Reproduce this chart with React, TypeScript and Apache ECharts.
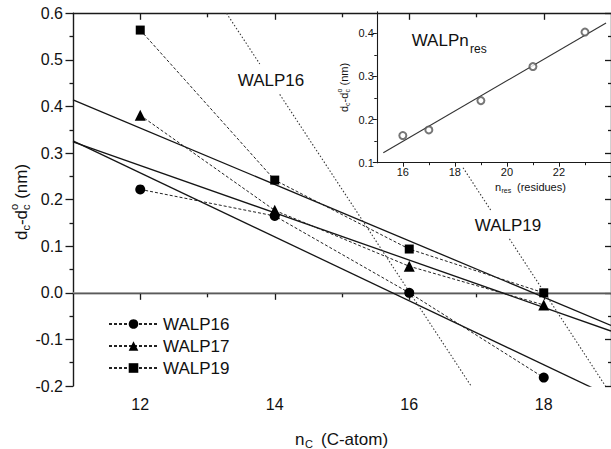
import React, { useEffect, useRef } from 'react';
import * as echarts from 'echarts';

// ---- main panel data ----
const nC = [12, 14, 16, 18];
const walp16 = [0.222, 0.165, 0.0, -0.182];
const walp17 = [0.381, 0.177, 0.057, -0.026];
const walp19 = [0.564, 0.242, 0.094, 0.0];

// fitted straight lines (end points, x / y)
const fit16 = [[11, 0.326], [19, -0.223]];
const fit17 = [[11, 0.324], [19, -0.082]];
const fit19 = [[11, 0.414], [19, -0.07]];

// dotted guide lines (interrupted by their labels)
const dot16a = [[13.283, 0.6], [13.777, 0.4913]];
const dot16b = [[14.074, 0.426], [16.92, -0.2]];
const dot19a = [[16.8, 0.2685], [17.22, 0.1756]];
const dot19b = [[17.49, 0.1158], [18.917, -0.2]];

const zeroLine = [[11, 0], [19, 0]];

// ---- inset data ----
const nRes = [16, 17, 19, 21, 23];
const dRes = [0.163, 0.176, 0.244, 0.323, 0.403];
const fitRes = [[15.25, 0.123], [23.81, 0.424]];

// ---- ticks ----
const xMajor = [12, 14, 16, 18];
const xMinor = [13, 15, 17];
const insetXMajor = [16, 18, 20, 22];
const insetXMinor = [17, 19, 21, 23];
const insetYMajor = [0.1, 0.2, 0.3, 0.4];
const insetYMinor = [0.15, 0.25, 0.35];

const FF = 'Liberation Sans, Arial, Helvetica, sans-serif';
const INK = '#111';
const AX = { color: '#1a1a1a', width: 1.4 };

const zip = (xs: number[], ys: number[]) => xs.map((x, i) => [x, ys[i]]);

function txt(text: string, x: number, y: number, size: number, align = 'left') {
  return {
    type: 'text',
    x,
    y,
    silent: true,
    style: {
      text,
      fontSize: size,
      fontFamily: FF,
      fill: INK,
      align,
      textAlign: align,
      verticalAlign: 'middle',
      textVerticalAlign: 'middle',
    },
  };
}

export default function App() {
  const ref = useRef<HTMLDivElement>(null);
  useEffect(() => {
    if (!ref.current) return;
    const chart = echarts.init(ref.current, undefined, { renderer: 'svg' });

    const tickLine = { color: '#1a1a1a', width: 1.3 };

    const option: any = {
      animation: false,
      backgroundColor: '#fff',
      grid: [
        { left: 73, top: 13.3, right: 0, height: 372.7, containLabel: false },
        { left: 376.8, top: 11.8, right: 0, height: 150.9, containLabel: false },
      ],
      legend: {
        data: ['WALP16', 'WALP17', 'WALP19'],
        orient: 'vertical',
        left: 103,
        top: 310,
        itemWidth: 49,
        itemHeight: 12,
        itemGap: 4,
        itemTextGap: 4,
        selectedMode: false,
        textStyle: { fontSize: 17, fontFamily: FF, color: INK, lineHeight: 18 },
      },
      xAxis: [
        {
          gridIndex: 0, type: 'value', min: 11, max: 19, interval: 1, position: 'bottom',
          axisLine: { show: true, lineStyle: AX },
          axisTick: { show: true, customValues: xMajor, length: 7, lineStyle: tickLine },
          axisLabel: {
            customValues: xMajor, fontSize: 16, margin: 10, color: INK, fontFamily: FF,
            formatter: (v: number) => (v % 2 === 0 ? String(v) : ''),
          },
          splitLine: { show: false },
        },
        {
          gridIndex: 0, type: 'value', min: 11, max: 19, interval: 1, position: 'bottom',
          axisLine: { show: false },
          axisTick: { show: true, customValues: xMinor, length: 4.5, lineStyle: tickLine },
          axisLabel: { show: false },
          splitLine: { show: false },
        },
        {
          gridIndex: 0, type: 'value', min: 11, max: 19, interval: 1, position: 'top',
          axisLine: { show: true, lineStyle: AX },
          axisTick: { show: true, inside: true, customValues: xMajor, length: 6.5, lineStyle: tickLine },
          axisLabel: { show: false },
          splitLine: { show: false },
        },
        {
          gridIndex: 0, type: 'value', min: 11, max: 19, interval: 1, position: 'top',
          axisLine: { show: false },
          axisTick: { show: true, inside: true, customValues: xMinor, length: 4, lineStyle: tickLine },
          axisLabel: { show: false },
          splitLine: { show: false },
        },
        {
          gridIndex: 1, type: 'value', min: 15, max: 24, interval: 1, position: 'bottom',
          axisLine: { show: true, lineStyle: { color: '#1a1a1a', width: 1.1 } },
          axisTick: { show: true, customValues: insetXMajor, length: 4, lineStyle: { color: '#1a1a1a', width: 1 } },
          axisLabel: {
            customValues: insetXMajor, fontSize: 11, margin: 4, color: INK, fontFamily: FF,
            formatter: (v: number) => (v % 2 === 0 ? String(v) : ''),
          },
          splitLine: { show: false },
        },
        {
          gridIndex: 1, type: 'value', min: 15, max: 24, interval: 1, position: 'bottom',
          axisLine: { show: false },
          axisTick: { show: true, customValues: insetXMinor, length: 2.5, lineStyle: { color: '#1a1a1a', width: 1 } },
          axisLabel: { show: false },
          splitLine: { show: false },
        },
      ],
      yAxis: [
        {
          gridIndex: 0, type: 'value', min: -0.2, max: 0.6, interval: 0.1, position: 'left',
          axisLine: { show: true, lineStyle: AX },
          axisTick: { show: true, length: 7.5, lineStyle: tickLine },
          minorTick: { show: true, splitNumber: 2, length: 3.5, lineStyle: tickLine },
          axisLabel: {
            fontSize: 16, margin: 10, color: INK, fontFamily: FF,
            formatter: (v: number) => v.toFixed(1),
          },
          splitLine: { show: false },
        },
        {
          gridIndex: 0, type: 'value', min: -0.2, max: 0.6, interval: 0.1, position: 'right',
          axisLine: { show: true, lineStyle: AX },
          axisTick: { show: true, inside: true, length: 6, lineStyle: tickLine },
          minorTick: { show: true, splitNumber: 2, length: 3, lineStyle: tickLine },
          axisLabel: { show: false },
          splitLine: { show: false },
        },
        {
          gridIndex: 1, type: 'value', min: 0.1, max: 0.45, interval: 0.1, position: 'left',
          axisLine: { show: true, lineStyle: { color: '#1a1a1a', width: 1.1 } },
          axisTick: { show: true, customValues: insetYMajor, length: 4, lineStyle: { color: '#1a1a1a', width: 1 } },
          axisLabel: {
            customValues: insetYMajor, fontSize: 11, margin: 3, color: INK, fontFamily: FF,
            formatter: (v: number) => v.toFixed(1),
          },
          splitLine: { show: false },
        },
        {
          gridIndex: 1, type: 'value', min: 0.1, max: 0.45, interval: 0.1, position: 'left',
          axisLine: { show: false },
          axisTick: { show: true, customValues: insetYMinor, length: 2.5, lineStyle: { color: '#1a1a1a', width: 1 } },
          axisLabel: { show: false },
          splitLine: { show: false },
        },
      ],
      series: [
        {
          name: 'zero', type: 'line', xAxisIndex: 0, yAxisIndex: 0, data: zeroLine,
          symbol: 'none', lineStyle: { color: '#999', width: 1.2 }, z: 1, silent: true,
        },
        ...[fit16, fit17, fit19].map((d, i) => ({
          name: 'fit' + i, type: 'line', xAxisIndex: 0, yAxisIndex: 0, data: d,
          symbol: 'none', lineStyle: { color: '#151515', width: 1.3 }, z: 2, silent: true,
        })),
        ...[dot16a, dot16b, dot19a, dot19b].map((d, i) => ({
          name: 'dot' + i, type: 'line', xAxisIndex: 0, yAxisIndex: 0, data: d,
          symbol: 'none', lineStyle: { color: '#3a3a3a', width: 1.1, type: [1.5, 2] }, z: 2, silent: true,
        })),
        {
          name: 'WALP16', type: 'line', xAxisIndex: 0, yAxisIndex: 0, data: zip(nC, walp16),
          symbol: 'circle', symbolSize: 10, itemStyle: { color: '#000' },
          lineStyle: { color: '#222', width: 1, type: [3, 2] }, z: 3,
        },
        {
          name: 'WALP17', type: 'line', xAxisIndex: 0, yAxisIndex: 0, data: zip(nC, walp17),
          symbol: 'triangle', symbolSize: 11, itemStyle: { color: '#000' },
          lineStyle: { color: '#222', width: 1, type: [3, 2] }, z: 3,
        },
        {
          name: 'WALP19', type: 'line', xAxisIndex: 0, yAxisIndex: 0, data: zip(nC, walp19),
          symbol: 'rect', symbolSize: 9, itemStyle: { color: '#000' },
          lineStyle: { color: '#222', width: 1, type: [3, 2] }, z: 3,
        },
        {
          name: 'insetFit', type: 'line', xAxisIndex: 4, yAxisIndex: 2, data: fitRes,
          symbol: 'none', lineStyle: { color: '#333', width: 1.1 }, z: 2, silent: true,
        },
        {
          name: 'insetPts', type: 'scatter', xAxisIndex: 4, yAxisIndex: 2, data: zip(nRes, dRes),
          symbol: 'emptyCircle', symbolSize: 7,
          itemStyle: { color: '#555', borderWidth: 1 }, z: 3, silent: true,
        },
      ],
      graphic: [
        // main y title: d_c - d_c^o (nm)
        {
          type: 'group', x: 21, y: 240, rotation: Math.PI / 2, silent: true,
          children: [
            txt('d', 0, 0, 17),
            txt('c', 9.45, 5, 11),
            txt('-d', 14.95, 0, 17),
            txt('c', 30.05, 5, 11),
            txt('o', 30.05, -7, 11),
            txt('(nm)', 41.2, 0, 17),
          ],
        },
        // main x title: n_C (C-atom)
        txt('n', 295, 439, 17),
        txt('C', 305, 444, 11),
        txt('(C-atom)', 321, 439, 17),
        // guide-line labels
        txt('WALP16', 271, 80, 17, 'center'),
        txt('WALP19', 508, 225, 17, 'center'),
        // inset label
        txt('WALPn', 411.7, 40, 17),
        txt('res', 470, 49, 12),
        // inset y title
        {
          type: 'group', x: 344, y: 112, rotation: Math.PI / 2, silent: true,
          children: [
            txt('d', 0, 0, 11),
            txt('c', 6.1, 3.5, 7),
            txt('-d', 9.6, 0, 11),
            txt('c', 19.4, 3.5, 7),
            txt('o', 19.4, -4.5, 7),
            txt('(nm)', 26.5, 0, 11),
          ],
        },
        // inset x title
        txt('n', 495, 187, 11),
        txt('res', 501.5, 190.5, 7),
        txt('(residues)', 517, 187, 11),
      ],
    };

    chart.setOption(option);
    return () => chart.dispose();
  }, []);

  return (
    <div
      ref={ref}
      style={{ position: 'fixed', left: 0, top: 0, width: 611, height: 449, background: '#fff' }}
    />
  );
}
